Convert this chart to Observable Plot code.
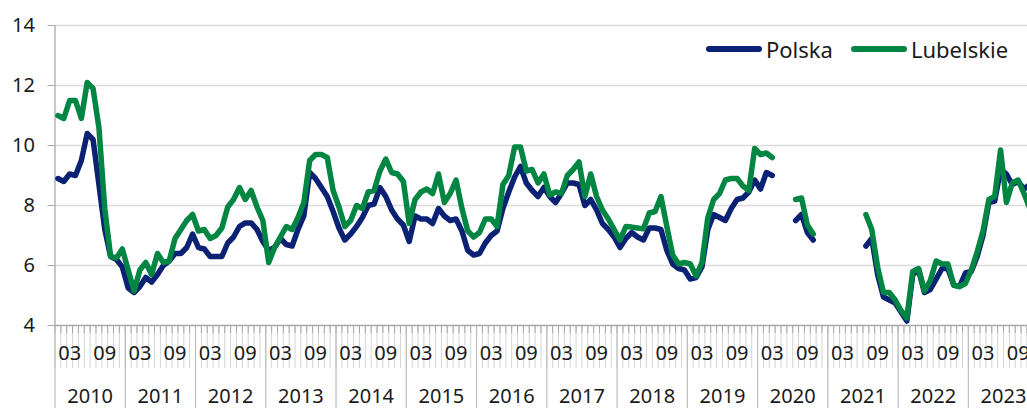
<!DOCTYPE html>
<html><head><meta charset="utf-8">
<script src="https://cdn.jsdelivr.net/npm/d3@7"></script>
<script src="https://cdn.jsdelivr.net/npm/@observablehq/plot@0.6"></script>
<style>
html,body{margin:0;padding:0;overflow:hidden;background:#fff;}
#wrap{position:relative;width:1027px;height:408px;}
#legend{position:absolute;top:34px;left:706px;display:flex;align-items:center;font-family:"Noto Sans";font-size:22px;color:#1a1a1a;white-space:nowrap;}
#legend .item{display:flex;align-items:center;margin-right:18px;}
#legend .sw{display:inline-block;width:56px;height:5.5px;border-radius:3px;margin-right:4px;}
</style></head><body><div id="wrap"></div>
<script>
const years = [2010,2011,2012,2013,2014,2015,2016,2017,2018,2019,2020,2021,2022,2023];
const monthLabels = ["03","09"];
const seriesNames = ["Polska","Lubelskie"];
const seriesColors = ["#0b2274","#008542"];
const yTicks = [4,6,8,10,12,14];

// monthly values from Jan 2010 (null = no data)
const polska = [
 8.9,8.8,9.05,9.0,9.5,10.4,10.2,8.7,7.2,6.3,6.2,5.95,
 5.25,5.1,5.3,5.6,5.45,5.7,6.0,6.15,6.4,6.4,6.6,7.05,
 6.6,6.55,6.3,6.3,6.3,6.75,6.95,7.3,7.42,7.42,7.2,6.8,
 6.5,6.6,6.9,6.7,6.65,7.2,7.65,9.1,8.9,8.6,8.3,7.8,
 7.25,6.85,7.05,7.3,7.6,8.0,8.05,8.6,8.3,7.85,7.55,7.35,
 6.8,7.65,7.55,7.55,7.4,7.9,7.65,7.5,7.55,7.15,6.5,6.35,
 6.4,6.75,7.0,7.15,7.9,8.45,8.95,9.3,8.75,8.5,8.3,8.6,
 8.3,8.1,8.4,8.75,8.75,8.7,8.0,8.2,7.85,7.4,7.2,6.95,
 6.6,6.9,7.1,6.95,6.85,7.25,7.25,7.2,6.5,6.05,5.9,5.85,
 5.55,5.6,5.95,7.2,7.7,7.6,7.5,7.9,8.2,8.25,8.45,8.85,
 8.55,9.1,9.0,null,null,null,7.5,7.7,7.1,6.85,null,null,
 null,null,null,null,null,null,6.65,6.9,5.7,4.95,4.85,4.75,
 4.45,4.15,5.7,5.85,5.1,5.2,5.55,5.9,5.9,5.35,5.3,5.75,
 5.8,6.3,7.0,8.1,8.15,9.2,9.05,8.7,8.8,8.55,8.7
];
const lubelskie = [
 11.0,10.9,11.5,11.5,10.9,12.1,11.9,10.6,7.9,6.3,6.25,6.55,
 5.85,5.15,5.85,6.1,5.7,6.4,6.1,6.15,6.9,7.2,7.5,7.7,
 7.15,7.2,6.9,7.0,7.25,7.95,8.2,8.6,8.2,8.5,7.95,7.5,
 6.1,6.6,6.95,7.3,7.2,7.6,8.1,9.5,9.7,9.7,9.6,8.5,
 7.95,7.3,7.5,8.0,7.9,8.45,8.5,9.15,9.55,9.1,9.05,8.8,
 7.4,8.2,8.45,8.55,8.4,9.05,8.1,8.4,8.85,7.9,7.15,6.95,
 7.1,7.55,7.55,7.3,8.7,9.0,9.95,9.95,9.15,9.2,8.75,9.05,
 8.35,8.45,8.4,9.0,9.2,9.45,8.3,9.05,8.3,7.85,7.55,7.2,
 6.85,7.3,7.28,7.25,7.22,7.75,7.8,8.3,7.3,6.35,6.05,6.1,
 6.05,5.65,6.1,7.6,8.2,8.4,8.85,8.9,8.9,8.65,8.5,9.9,
 9.7,9.75,9.6,null,null,null,8.2,8.25,7.35,7.05,null,null,
 null,null,null,null,null,null,7.7,7.2,5.95,5.1,5.1,4.85,
 4.5,4.25,5.8,5.9,5.15,5.5,6.15,6.05,6.05,5.35,5.3,5.4,
 5.85,6.45,7.15,8.2,8.3,9.85,8.1,8.75,8.85,8.4,7.9
];

const table = [];
[polska, lubelskie].forEach((arr, k) => arr.forEach((v, i) => table.push({s: seriesNames[k], m: i + 0.5, v})));

const monthsShown = 166.1;
const monthBounds = d3.range(0, Math.ceil(monthsShown) + 1);
const yearBounds = years.map((y, k) => k * 12);
const monthTickPos = years.flatMap((y, k) => monthLabels.map(l => k * 12 + (+l) - 0.5));
const yearCenters = years.map((y, k) => k * 12 + 6);
const blank = () => "";

const chart = Plot.plot({
  width: 1027, height: 408,
  marginLeft: 54.5, marginRight: 0, marginTop: 25, marginBottom: 83,
  style: {fontFamily: "Noto Sans", fontSize: "20px", color: "#1a1a1a", background: "#fff", overflow: "hidden"},
  x: {type: "linear", domain: [0, monthsShown]},
  y: {domain: [4, 14]},
  color: {domain: seriesNames, range: seriesColors},
  marks: [
    Plot.ruleY(yTicks.filter(t => t > 4), {stroke: "#dcdcdc", strokeWidth: 1.5}),
    Plot.axisX(monthBounds, {tickSize: 43, stroke: "#d4d4d4", strokeWidth: 1, tickFormat: blank, label: null}),
    Plot.axisX(monthBounds, {tickSize: 8, stroke: "#a8a8a8", strokeWidth: 1, tickFormat: blank, label: null}),
    Plot.axisX(yearBounds, {tickSize: 83, stroke: "#bdbdbd", strokeWidth: 1.2, tickFormat: blank, label: null}),
    Plot.axisX(monthTickPos, {tickSize: 0, tickPadding: 20, fontSize: 20, fill: "#1a1a1a",
      tickFormat: d => String(Math.round(d + 0.5) % 12 || 12).padStart(2, "0"), label: null}),
    Plot.axisX(yearCenters, {tickSize: 0, tickPadding: 63, fontSize: 20, fill: "#1a1a1a",
      tickFormat: d => String(years[Math.round((d - 6) / 12)]), label: null}),
    Plot.axisY(yTicks, {tickSize: 7, tickPadding: 13, fontSize: 20, stroke: "#a8a8a8", fill: "#1a1a1a", label: null}),
    Plot.ruleX([0], {stroke: "#a8a8a8", strokeWidth: 1.3}),
    Plot.ruleY([4], {stroke: "#a8a8a8", strokeWidth: 1.3}),
    Plot.line(table, {x: "m", y: "v", z: "s", stroke: "s", strokeWidth: 5.5, strokeLinejoin: "round", strokeLinecap: "round"})
  ]
});

const wrap = document.getElementById("wrap");
wrap.appendChild(chart);
const legend = document.createElement("div");
legend.id = "legend";
seriesNames.forEach((n, k) => {
  const it = document.createElement("div");
  it.className = "item";
  const sw = document.createElement("span");
  sw.className = "sw";
  sw.style.background = seriesColors[k];
  const t = document.createElement("span");
  t.textContent = n;
  it.appendChild(sw); it.appendChild(t);
  legend.appendChild(it);
});
wrap.appendChild(legend);
</script>
</body></html>
